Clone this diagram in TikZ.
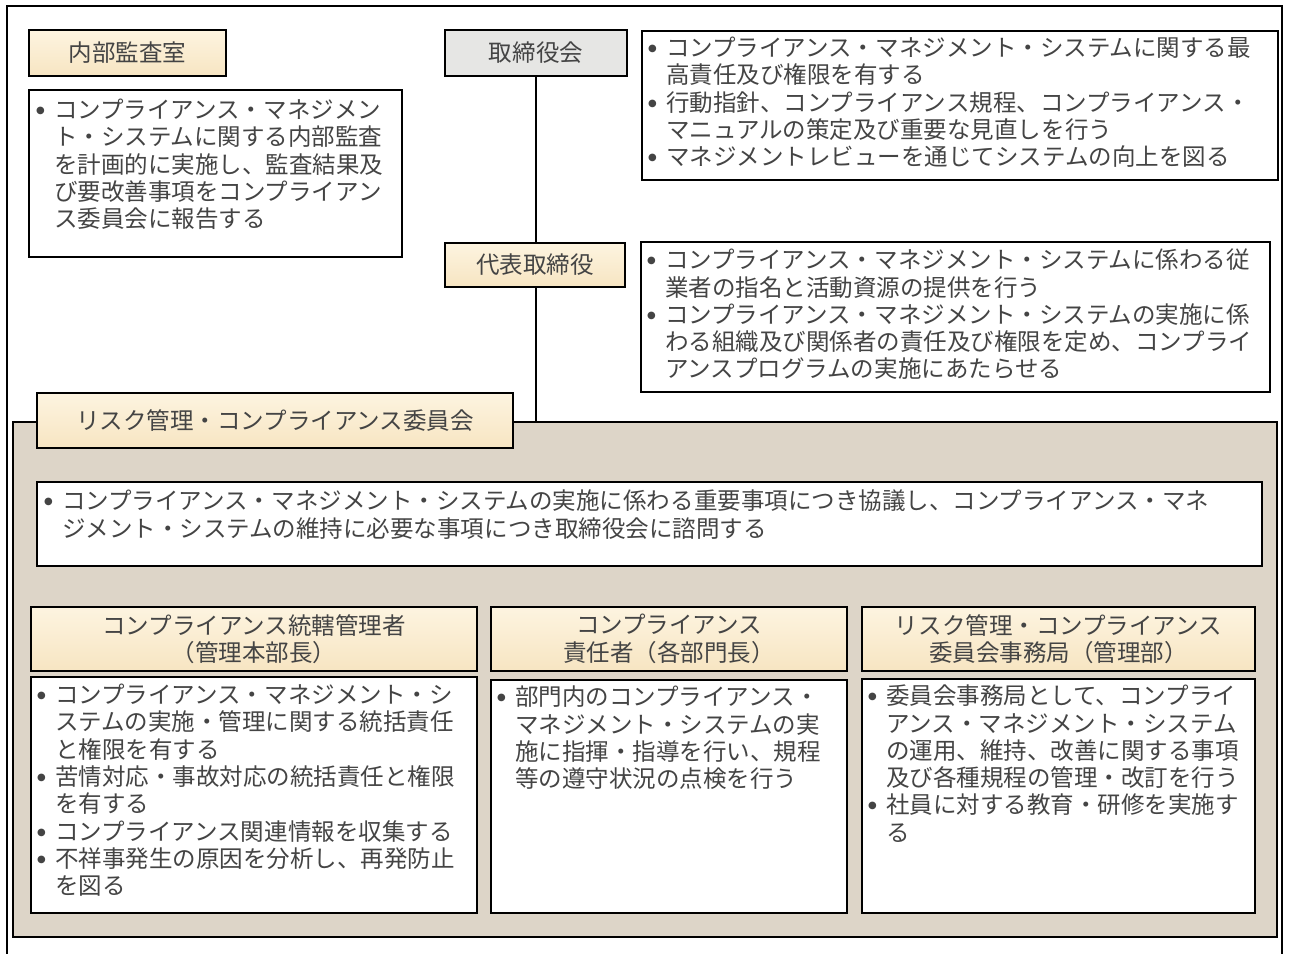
\documentclass[tikz,border=0pt]{standalone}
\usepackage{fontspec}
\setmainfont{Noto Sans CJK JP}
\newfontfamily\dejavu{DejaVu Sans}
\definecolor{txtgray}{HTML}{444444}
\definecolor{creamT}{HTML}{FDF4E0}
\definecolor{creamB}{HTML}{F7E5C2}
\definecolor{panelc}{HTML}{DDD5C8}
\definecolor{boardc}{HTML}{E6E6E4}
\newcommand\bul{\makebox[20bp][l]{\hspace*{2bp}\raisebox{5bp}{\dejavu\fontsize{10}{10}\selectfont ●}}}
\newcommand\ind{\hspace*{20bp}}
\begin{document}
\begin{tikzpicture}[x=1bp,y=-1bp,
  every node/.style={inner sep=0pt, outer sep=0pt},
  txt/.style={font=\fontsize{23.6}{27.4}\selectfont, text=txtgray},
  hdr/.style={draw=black, line width=1.5bp, top color=creamT, bottom color=creamB, txt, align=center, anchor=north west},
  graybox/.style={draw=black, line width=1.5bp, fill=boardc, txt, align=center, anchor=north west},
  dbox/.style={draw=black, line width=1.5bp, fill=white, anchor=north west},
  dtext/.style={txt, align=left, anchor=north west},
  panelbox/.style={draw=black, line width=1.5bp, fill=panelc, anchor=north west},
  conn/.style={draw=black, line width=1.5bp}]
\useasboundingbox (0,0) rectangle (1289,954);
\fill[white] (0,0) rectangle (1289,954);
% outer frame
\draw[line width=1.2bp] (7,970) -- (7,6) -- (1282,6) -- (1282,970);
% panel
\node[panelbox, minimum width=1264bp, minimum height=515bp] (panel) at (13,422) {};
% internal audit
\node[hdr, minimum width=197bp, minimum height=46bp] (audit) at (29,30) {内部監査室};
\node[dbox, minimum width=373bp, minimum height=167bp] (auditd) at (29,90) {};
\node[dtext] at ([xshift=5bp,yshift=-9bp]auditd.north west) {\bul コンプライアンス・マネジメン\\
\ind ト・システムに関する内部監査\\
\ind を計画的に実施し、監査結果及\\
\ind び要改善事項をコンプライアン\\
\ind ス委員会に報告する};
% board
\node[graybox, minimum width=182bp, minimum height=46bp] (board) at (445,30) {取締役会};
\node[dbox, minimum width=636bp, minimum height=149bp] (boardd) at (642,31) {};
\node[dtext] at ([xshift=4bp,yshift=-6bp]boardd.north west) {\bul コンプライアンス・マネジメント・システムに関する最\\
\ind 高責任及び権限を有する\\
\bul 行動指針、コンプライアンス規程、コンプライアンス・\\
\ind マニュアルの策定及び重要な見直しを行う\\
\bul マネジメントレビューを通じてシステムの向上を図る};
% connector
\draw[conn] (board.south) -- (board.south |- panel.north);
% representative
\node[hdr, minimum width=180bp, minimum height=44bp] (rep) at (445,243) {代表取締役};
\node[dbox, minimum width=629bp, minimum height=150bp] (repd) at (641,242) {};
\node[dtext] at ([xshift=4bp,yshift=-7bp]repd.north west) {\bul コンプライアンス・マネジメント・システムに係わる従\\
\ind 業者の指名と活動資源の提供を行う\\
\bul コンプライアンス・マネジメント・システムの実施に係\\
\ind わる組織及び関係者の責任及び権限を定め、コンプライ\\
\ind アンスプログラムの実施にあたらせる};
% committee
\node[hdr, minimum width=476bp, minimum height=55bp] (comm) at (37,393) {リスク管理・コンプライアンス委員会};
\node[dbox, minimum width=1225bp, minimum height=84bp] (commd) at (37,482) {};
\node[dtext] at ([xshift=5bp,yshift=-8bp]commd.north west) {\bul コンプライアンス・マネジメント・システムの実施に係わる重要事項につき協議し、コンプライアンス・マネ\\
\ind ジメント・システムの維持に必要な事項につき取締役会に諮問する};
% three columns
\node[hdr, minimum width=446bp, minimum height=64bp] (lh) at (31,607) {コンプライアンス統轄管理者\\（管理本部長）};
\node[dbox, minimum width=446bp, minimum height=236bp] (ld) at (31,677) {};
\node[dtext] at ([xshift=4bp,yshift=-7bp]ld.north west) {\bul コンプライアンス・マネジメント・シ\\
\ind ステムの実施・管理に関する統括責任\\
\ind と権限を有する\\
\bul 苦情対応・事故対応の統括責任と権限\\
\ind を有する\\
\bul コンプライアンス関連情報を収集する\\
\bul 不祥事発生の原因を分析し、再発防止\\
\ind を図る};
\node[hdr, minimum width=356bp, minimum height=64bp] (mh) at (491,607) {コンプライアンス\\責任者（各部門長）};
\node[dbox, minimum width=356bp, minimum height=233bp] (md) at (491,680) {};
\node[dtext] at ([xshift=4bp,yshift=-6bp]md.north west) {\bul 部門内のコンプライアンス・\\
\ind マネジメント・システムの実\\
\ind 施に指揮・指導を行い、規程\\
\ind 等の遵守状況の点検を行う};
\node[hdr, minimum width=393bp, minimum height=64bp] (rh) at (862,607) {リスク管理・コンプライアンス\\委員会事務局（管理部）};
\node[dbox, minimum width=393bp, minimum height=234bp] (rd) at (862,679) {};
\node[dtext] at ([xshift=4bp,yshift=-6bp]rd.north west) {\bul 委員会事務局として、コンプライ\\
\ind アンス・マネジメント・システム\\
\ind の運用、維持、改善に関する事項\\
\ind 及び各種規程の管理・改訂を行う\\
\bul 社員に対する教育・研修を実施す\\
\ind る};
\end{tikzpicture}
\end{document}
